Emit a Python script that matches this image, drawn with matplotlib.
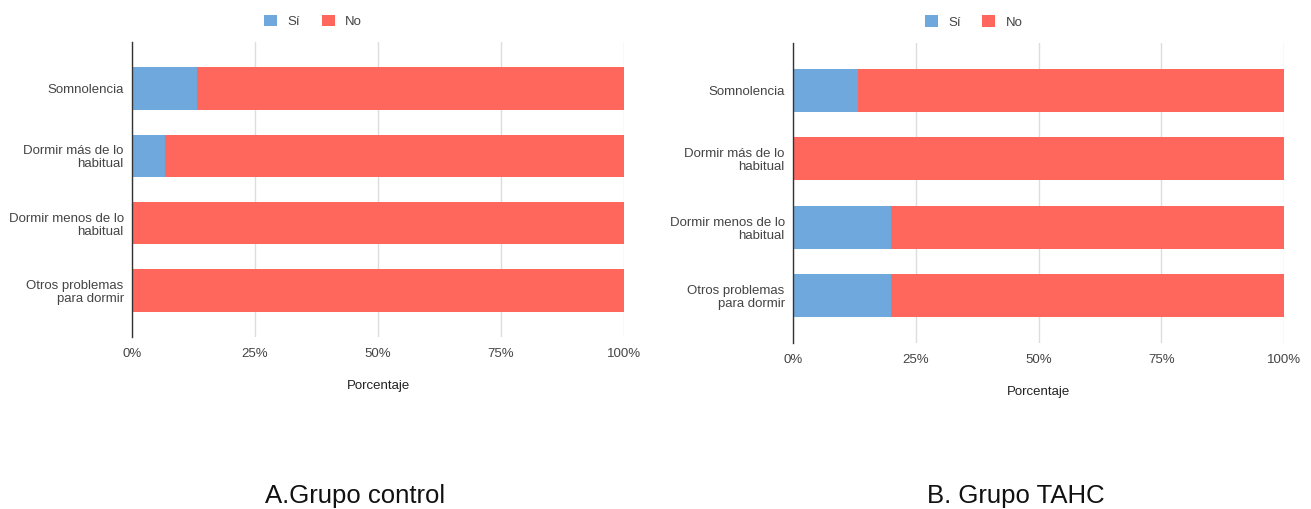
import numpy as np
import matplotlib.pyplot as plt
from matplotlib.ticker import PercentFormatter

plt.rcParams['font.family'] = ['Liberation Sans', 'DejaVu Sans']

categorias = ['Somnolencia', 'Dormir más de lo\nhabitual',
              'Dormir menos de lo\nhabitual', 'Otros problemas\npara dormir']
si_control = [13.3, 6.7, 0.0, 0.0]
si_tahc = [13.3, 0.0, 20.0, 20.0]
no_control = [100 - v for v in si_control]
no_tahc = [100 - v for v in si_tahc]

color_si = '#6fa8dc'
color_no = '#ff675c'
gris_texto = '#444444'


def barras(ax, si, no):
    y = np.arange(len(categorias))
    ax.barh(y, si, height=0.63, color=color_si, label='Sí')
    ax.barh(y, no, left=si, height=0.63, color=color_no, label='No')
    ax.set_yticks(y)
    ax.set_yticklabels(categorias, fontsize=9.5, color=gris_texto, linespacing=1.1)
    ax.set_ylim(len(categorias) - 0.31, -0.69)
    ax.set_xlim(0, 100)
    ax.set_xticks([0, 25, 50, 75, 100])
    ax.xaxis.set_major_formatter(PercentFormatter(decimals=0))
    ax.tick_params(axis='x', labelsize=9.5, colors=gris_texto, length=0, pad=8)
    ax.tick_params(axis='y', length=0, pad=6)
    ax.grid(True, axis='x', color='#dddddd', linewidth=1)
    ax.set_axisbelow(True)
    for s in ['top', 'right', 'bottom']:
        ax.spines[s].set_visible(False)
    ax.spines['left'].set_color('#333333')
    ax.spines['left'].set_linewidth(1)
    ax.set_xlabel('Porcentaje', fontsize=9.5, color='#222222', labelpad=14)
    ax.legend(loc='center', bbox_to_anchor=(0.368, 1.07), ncol=2,
              frameon=False, fontsize=9.5, handlelength=1.0, handleheight=1.0,
              columnspacing=1.6, handletextpad=0.8, labelcolor=gris_texto)


fig = plt.figure(figsize=(13.11, 5.09), dpi=100)
ax1 = fig.add_axes([0.1007, 0.338, 0.3753, 0.5796])
ax2 = fig.add_axes([0.6049, 0.3261, 0.3745, 0.5894])
barras(ax1, si_control, no_control)
barras(ax2, si_tahc, no_tahc)

fig.text(0.271, 0.012, 'A.Grupo control', ha='center', va='baseline',
         fontsize=18.5, color='#111111')
fig.text(0.775, 0.012, 'B. Grupo TAHC', ha='center', va='baseline',
         fontsize=18.5, color='#111111')

fig.savefig('out.png', dpi=100, facecolor='white')
